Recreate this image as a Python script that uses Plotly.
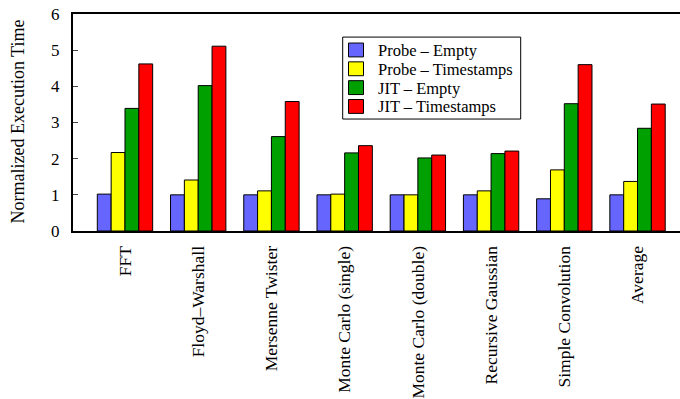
import plotly.graph_objects as go

# Benchmarks on the category axis
categories = [
    "FFT", "Floyd–Warshall", "Mersenne Twister", "Monte Carlo (single)",
    "Monte Carlo (double)", "Recursive Gaussian", "Simple Convolution", "Average",
]

# Normalized execution time per configuration
probe_empty = [1.02, 1.00, 1.00, 1.00, 1.00, 1.00, 0.89, 1.00]
probe_timestamps = [2.17, 1.41, 1.11, 1.02, 1.00, 1.11, 1.69, 1.37]
jit_empty = [3.39, 4.02, 2.61, 2.16, 2.02, 2.14, 3.52, 2.84]
jit_timestamps = [4.62, 5.11, 3.58, 2.36, 2.10, 2.21, 4.60, 3.51]

y_ticks = [0, 1, 2, 3, 4, 5, 6]

series = [
    ("Probe – Empty", probe_empty, "#6666ff"),
    ("Probe – Timestamps", probe_timestamps, "#ffff00"),
    ("JIT – Empty", jit_empty, "#00a000"),
    ("JIT – Timestamps", jit_timestamps, "#ff0000"),
]

serif = "Liberation Serif, serif"

# plot area in pixels (used to place the key box in paper coordinates)
W, H = 680, 399
L, R, T, B = 73, 0, 14, 166
PW, PH = W - L - R, H - T - B


def px(x):
    return (x - L) / PW


def py(y):
    return (H - B - y) / PH


fig = go.Figure()
for name, vals, color in series:
    fig.add_trace(go.Bar(
        name=name, x=categories, y=vals,
        marker=dict(color=color, line=dict(color="black", width=1)),
        showlegend=False,
    ))

# key: framed box with a swatch and a label per series
shapes = [dict(type="rect", xref="paper", yref="paper",
               x0=px(342.7), x1=px(520.7), y0=py(120), y1=py(37.3),
               line=dict(color="black", width=1), fillcolor="white", layer="above")]
annotations = []
for i, (name, _, color) in enumerate(series):
    cy = 50.3 + 19 * i
    shapes.append(dict(type="rect", xref="paper", yref="paper",
                       x0=px(348.5), x1=px(363.5), y0=py(cy + 7), y1=py(cy - 7),
                       line=dict(color="black", width=1), fillcolor=color, layer="above"))
    annotations.append(dict(xref="paper", yref="paper", x=px(376), y=py(cy + 0.5),
                            xanchor="left", yanchor="middle", showarrow=False,
                            text=name, font=dict(family=serif, size=16.5, color="black")))

annotations.append(dict(xref="paper", yref="paper", x=px(18.5), y=py(123),
                        xanchor="center", yanchor="middle", showarrow=False,
                        textangle=-90, text="Normalized Execution Time",
                        font=dict(family=serif, size=18, color="black")))

fig.update_layout(
    width=W, height=H,
    margin=dict(l=L, r=R, t=T, b=B),
    paper_bgcolor="white", plot_bgcolor="white",
    barmode="group", bargap=0.244, bargroupgap=0,
    font=dict(family=serif, size=17, color="black"),
    showlegend=False,
    shapes=shapes,
    annotations=annotations,
    xaxis=dict(
        type="category", range=[-0.71, 7.58],
        showline=True, linecolor="black", linewidth=2, mirror=True,
        showgrid=False, ticks="", tickangle=-90, ticklabelstandoff=6,
        tickfont=dict(family=serif, size=17.5, color="black"),
    ),
    yaxis=dict(
        range=[0, 6], tickvals=y_ticks,
        showline=True, linecolor="black", linewidth=2, mirror=False,
        showgrid=False, zeroline=False,
        ticks="inside", ticklen=5, tickwidth=1, tickcolor="#444",
        ticklabelstandoff=8,
        tickfont=dict(family=serif, size=17, color="black"),
    ),
)

fig.write_html("out.html")
